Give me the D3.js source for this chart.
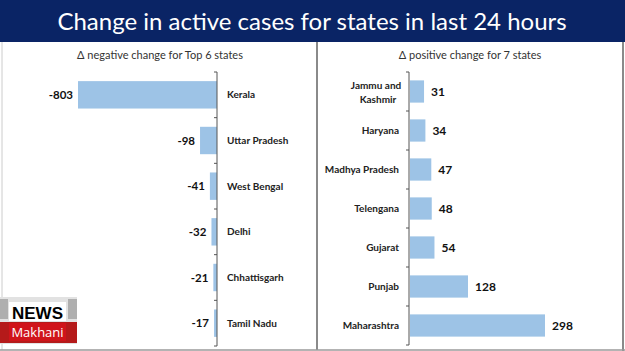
<!DOCTYPE html>
<html>
<head>
<meta charset="utf-8">
<script src="https://cdn.jsdelivr.net/npm/d3@7"></script>
<style>
  body { margin: 0; background: #fff; }
  svg { display: block; font-family: "Lato", "Open Sans", sans-serif; }
</style>
</head>
<body>
<svg id="chart" width="625" height="351"></svg>
<script>
// data
const negStates = ["Kerala", "Uttar Pradesh", "West Bengal", "Delhi", "Chhattisgarh", "Tamil Nadu"];
const negValues = [-803, -98, -41, -32, -21, -17];
const posStates = ["Jammu and Kashmir", "Haryana", "Madhya Pradesh", "Telengana", "Gujarat", "Punjab", "Maharashtra"];
const posValues = [31, 34, 47, 48, 54, 128, 298];

const title = "Change in active cases for states in last 24 hours";
const negTitle = "\u0394 negative change for Top 6 states";
const posTitle = "\u0394 positive change for 7 states";

const svg = d3.select("#chart");
const barColor = "#9dc3e6";

// header band
svg.append("rect").attr("x", 0).attr("y", 0).attr("width", 625).attr("height", 42).attr("fill", "#0a2465");
svg.append("text")
  .attr("x", 312).attr("y", 30)
  .attr("text-anchor", "middle")
  .attr("fill", "#fff")
  .style("font-size", "24px")
  .text(title);

// panel frame
svg.append("line").attr("x1", 2).attr("x2", 2).attr("y1", 42).attr("y2", 350).attr("stroke", "#ccc").attr("stroke-width", 1);
svg.append("line").attr("x1", 317).attr("x2", 317).attr("y1", 42).attr("y2", 350).attr("stroke", "#8a8a8a").attr("stroke-width", 2);
svg.append("line").attr("x1", 623).attr("x2", 623).attr("y1", 42).attr("y2", 351).attr("stroke", "#8a8a8a").attr("stroke-width", 2);
svg.append("line").attr("x1", 0).attr("x2", 625).attr("y1", 350).attr("y2", 350).attr("stroke", "#9a9a9a").attr("stroke-width", 1.5);

svg.append("text").attr("x", 160).attr("y", 59).attr("text-anchor", "middle")
  .attr("fill", "#333").style("font-size", "11px").text(negTitle);
svg.append("text").attr("x", 470).attr("y", 59).attr("text-anchor", "middle")
  .attr("fill", "#333").style("font-size", "11px").text(posTitle);

// ---- left chart (negative)
const negData = negStates.map((s, i) => ({ state: s, value: negValues[i] }));
const xL = d3.scaleLinear().domain([d3.min(negValues), 0]).range([78, 217]);
const yL = d3.scaleBand().domain(negStates).range([72, 346]).paddingInner(0.4).paddingOuter(0.2);

const gL = svg.append("g");
gL.selectAll("rect").data(negData).enter().append("rect")
  .attr("x", d => xL(d.value))
  .attr("y", d => yL(d.state))
  .attr("width", d => xL(0) - xL(d.value))
  .attr("height", yL.bandwidth())
  .attr("fill", barColor);

gL.selectAll(".val").data(negData).enter().append("text")
  .attr("x", d => xL(d.value) - 5)
  .attr("y", d => yL(d.state) + yL.bandwidth() / 2 + 4)
  .attr("text-anchor", "end")
  .attr("fill", "#111")
  .style("font-size", "11.5px").style("font-weight", "bold")
  .text(d => d.value);

gL.selectAll(".cat").data(negData).enter().append("text")
  .attr("x", xL(0) + 10)
  .attr("y", d => yL(d.state) + yL.bandwidth() / 2 + 3.5)
  .attr("fill", "#222")
  .style("font-size", "10px").style("font-weight", "bold")
  .text(d => d.state);

// axis line and ticks at band boundaries
const negTicks = negStates.map(s => yL(s) - yL.step() * yL.paddingInner() / 2).concat([yL.range()[1]]);
gL.append("line").attr("x1", xL(0)).attr("x2", xL(0)).attr("y1", 72).attr("y2", 346).attr("stroke", "#555");
gL.selectAll(".tick").data(negTicks).enter().append("line")
  .attr("x1", xL(0) - 3).attr("x2", xL(0))
  .attr("y1", d => d).attr("y2", d => d)
  .attr("stroke", "#555");

// ---- right chart (positive)
const posData = posStates.map((s, i) => ({ state: s, value: posValues[i] }));
const xR = d3.scaleLinear().domain([0, d3.max(posValues)]).range([410, 545]);
const yR = d3.scaleBand().domain(posStates).range([72, 345]).paddingInner(0.43).paddingOuter(0.215);

const gR = svg.append("g");
gR.selectAll("rect").data(posData).enter().append("rect")
  .attr("x", xR(0))
  .attr("y", d => yR(d.state))
  .attr("width", d => xR(d.value) - xR(0))
  .attr("height", yR.bandwidth())
  .attr("fill", barColor);

gR.selectAll(".val").data(posData).enter().append("text")
  .attr("x", d => xR(d.value) + 7)
  .attr("y", d => yR(d.state) + yR.bandwidth() / 2 + 4.5)
  .attr("fill", "#111")
  .style("font-size", "12px").style("font-weight", "bold")
  .text(d => d.value);

gR.selectAll(".cat").data(posData).enter().each(function (d) {
  const cy = yR(d.state) + yR.bandwidth() / 2;
  if (d.state === "Jammu and Kashmir") {
    const t = gR.append("text")
      .attr("text-anchor", "middle").attr("fill", "#222")
      .style("font-size", "10px").style("font-weight", "bold");
    t.append("tspan").attr("x", 376).attr("y", cy - 3).text("Jammu and");
    t.append("tspan").attr("x", 378).attr("y", cy + 11).text("Kashmir");
  } else {
    gR.append("text")
      .attr("x", 399).attr("y", cy + 3.5)
      .attr("text-anchor", "end").attr("fill", "#222")
      .style("font-size", "10px").style("font-weight", "bold")
      .text(d.state);
  }
});

const posTicks = posStates.map(s => yR(s) - yR.step() * yR.paddingInner() / 2).concat([yR.range()[1]]);
gR.append("line").attr("x1", xR(0) - 1).attr("x2", xR(0) - 1).attr("y1", 72).attr("y2", 345).attr("stroke", "#555");
gR.selectAll(".tick").data(posTicks).enter().append("line")
  .attr("x1", xR(0) - 4).attr("x2", xR(0) - 1)
  .attr("y1", d => d).attr("y2", d => d)
  .attr("stroke", "#555");

// ---- logo (bottom left)
const logo = svg.append("g");
logo.append("rect").attr("x", 0).attr("y", 297).attr("width", 77).attr("height", 47).attr("fill", "#e2e2e2");
// faded texture behind the badge
[[0, 299, 8, 20], [68, 299, 9, 20], [2, 324, 6, 15], [70, 324, 6, 15]].forEach(r => {
  logo.append("rect").attr("x", r[0]).attr("y", r[1]).attr("width", r[2]).attr("height", r[3]).attr("fill", "#8e8e8e").attr("opacity", 0.6);
});
logo.append("rect").attr("x", 9).attr("y", 302).attr("width", 57).attr("height", 19).attr("fill", "#fff");
logo.append("text").attr("x", 37.5).attr("y", 319).attr("text-anchor", "middle").attr("fill", "#000")
  .style("font-size", "17px").style("font-weight", "bold").style("font-family", "Liberation Sans, sans-serif")
  .text("NEWS");
logo.append("rect").attr("x", 0).attr("y", 322).attr("width", 77).attr("height", 21).attr("fill", "#b51a1a");
logo.append("rect").attr("x", 9).attr("y", 323).attr("width", 57).attr("height", 18).attr("fill", "#d0141a");
logo.append("text").attr("x", 37.5).attr("y", 337).attr("text-anchor", "middle").attr("fill", "#fff")
  .style("font-size", "13px").style("font-family", "Open Sans, sans-serif")
  .text("Makhani");
</script>
</body>
</html>
